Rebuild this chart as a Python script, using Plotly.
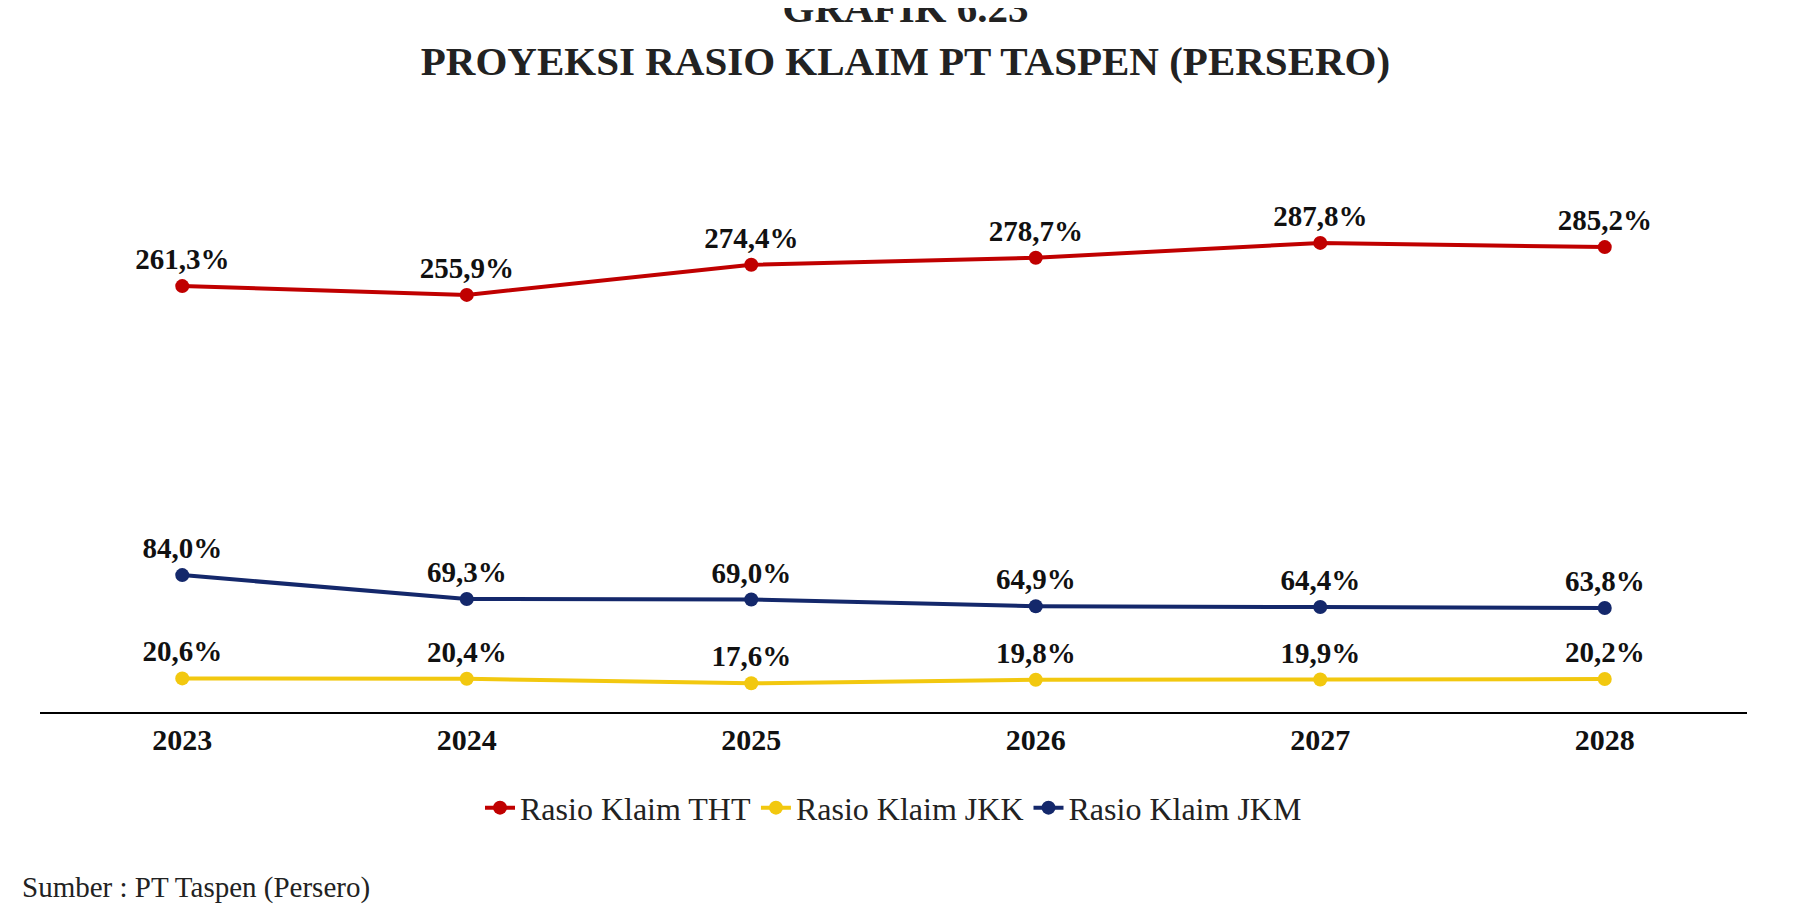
import plotly.graph_objects as go

years = ["2023", "2024", "2025", "2026", "2027", "2028"]
tht = [261.3, 255.9, 274.4, 278.7, 287.8, 285.2]
jkk = [20.6, 20.4, 17.6, 19.8, 19.9, 20.2]
jkm = [84.0, 69.3, 69.0, 64.9, 64.4, 63.8]

def lab(v):
    return [f"{x:.1f}%".replace(".", ",") for x in v]

font = "Liberation Serif"
fig = go.Figure()
for name, vals, col in [("Rasio Klaim THT", tht, "#C00000"),
                        ("Rasio Klaim JKK", jkk, "#F2C80F"),
                        ("Rasio Klaim JKM", jkm, "#14286B")]:
    fig.add_trace(go.Scatter(x=years, y=vals, name=name, mode="lines+markers+text",
                             line=dict(color=col, width=4), marker=dict(size=14, color=col),
                             text=lab(vals), textposition="top center",
                             textfont=dict(family=font, size=29, color="#111", weight="bold"),
                             cliponaxis=False))
fig.update_layout(
    width=1795, height=920, paper_bgcolor="white", plot_bgcolor="white",
    margin=dict(l=32, r=56, t=215, b=216),
    title=dict(text="<b>GRAFIK 6.23<br>PROYEKSI RASIO KLAIM PT TASPEN (PERSERO)</b>",
               x=0.5, xanchor="center", yref="container", y=0.985, yanchor="top",
               font=dict(family=font, size=41, color="#222")),
    xaxis=dict(showline=True, linecolor="black", linewidth=2, showgrid=False, ticks="",
               tickfont=dict(family=font, size=30, color="#111", weight="bold"),
               range=[-0.5, 5.5]),
    yaxis=dict(range=[0, 300], visible=False),
    legend=dict(orientation="h", x=0.5, xanchor="center", y=-0.196, yanchor="middle",
                font=dict(family=font, size=32, color="#222")),
    showlegend=True,
)
fig.add_annotation(text="Sumber : PT Taspen (Persero)", xref="paper", yref="paper",
                   x=-0.012, y=-0.358, xanchor="left", yanchor="middle", showarrow=False,
                   font=dict(family=font, size=29, color="#222"))
fig.write_html("out.html")
